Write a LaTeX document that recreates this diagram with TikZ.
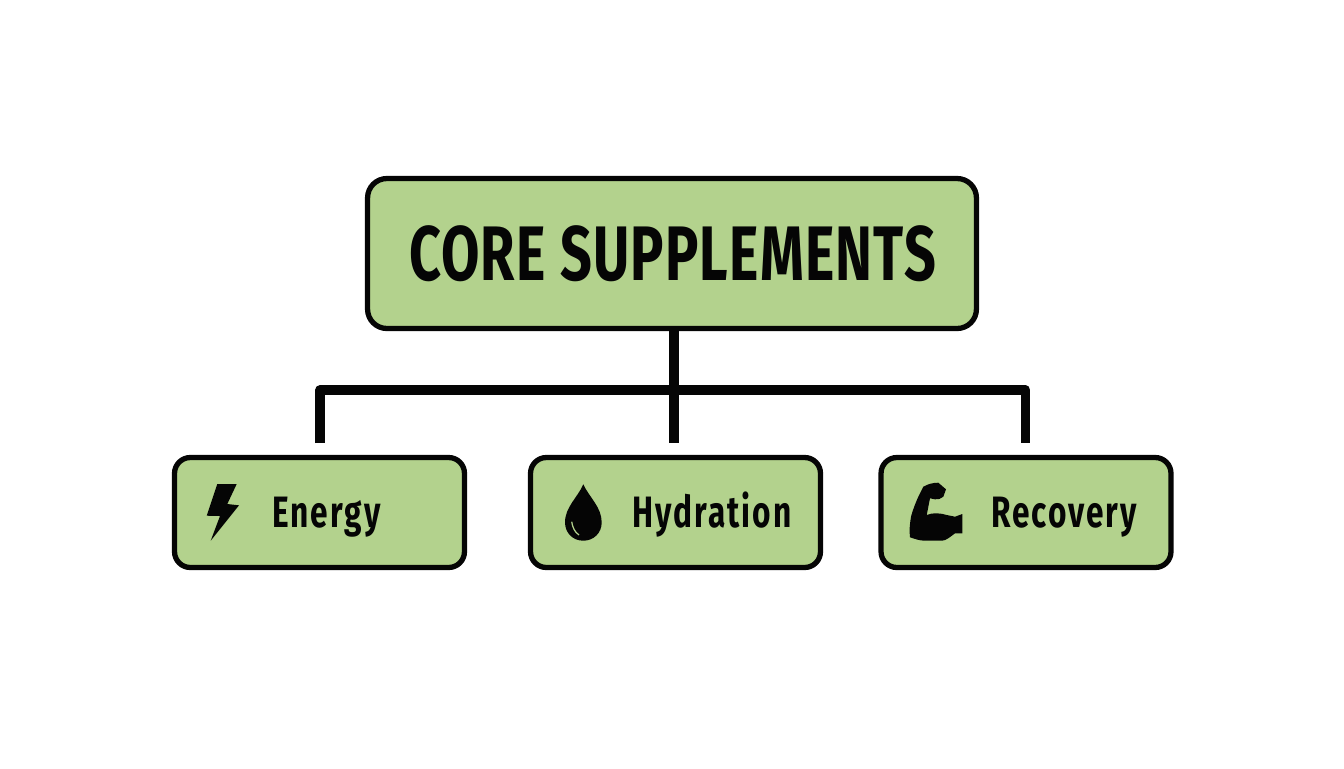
\documentclass[tikz,border=0pt]{standalone}
\usepackage{fontspec}
\newfontfamily\corefont[FakeStretch=0.72,LetterSpace=1.6]{Fira Sans Bold}
\newfontfamily\leaffont[FakeStretch=0.72,LetterSpace=4.6]{Fira Sans Bold}
\definecolor{boxgreen}{HTML}{B3D28D}
\definecolor{inkblack}{HTML}{050505}
\tikzset{
    corebox/.style={draw=inkblack,fill=boxgreen,line width=3pt,rounded corners=11pt,inner sep=0pt,outer sep=0pt,minimum width=12.18cm,minimum height=3cm},
    leafbox/.style={draw=inkblack,fill=boxgreen,line width=3pt,rounded corners=9pt,inner sep=0pt,outer sep=0pt,minimum width=5.8cm,minimum height=2.2cm},
    corelabel/.style={anchor=base,inner sep=0pt,text=inkblack,font=\corefont\fontsize{44}{44}\selectfont},
    leaflabel/.style={anchor=base,inner sep=0pt,text=inkblack,font=\leaffont\fontsize{25}{25}\selectfont},
    trunk/.style={draw=inkblack,line width=5.4pt,line join=round},
    icon/.style={fill=inkblack,draw=none}
}
\begin{document}
\begin{tikzpicture}[x=0.02cm,y=-0.02cm]
        \useasboundingbox (0,0) rectangle (1344,768);
        \coordinate (hub) at (674,390);
        \coordinate (stubE) at (320,443);
        \coordinate (stubH) at (674,443);
        \coordinate (stubR) at (1025.5,443);
        \node[corebox] (core) at (672,253.5) {};
        \node[leafbox] (energy) at (319.5,512.5) {};
        \node[leafbox] (hydration) at (675.5,512.5) {};
        \node[leafbox] (recovery) at (1026,512.5) {};
        \node[corelabel] (corelbl) at (672.5,280) {CORE SUPPLEMENTS};
        \node[leaflabel] (energylbl) at (326.5,527) {Energy};
        \node[leaflabel] (hydrationlbl) at (712,527) {Hydration};
        \node[leaflabel] (recoverylbl) at (1064,527) {Recovery};
        \draw[trunk] (core.south -| hub) -- (stubH);
        \draw[trunk] (stubE) |- (hub) -| (stubR);
        \fill[icon] (217.3,484) -- (236.7,484) -- (227.3,504) -- (239,505.3) -- (210.7,540.7) -- (220,516) -- (206.7,515.7) -- cycle;
        \fill[icon] (583.3,484.3) .. controls (578,497) and (565,507) .. (565,522.4) .. controls (565,533) and (573,540.7) .. (583.3,540.7) .. controls (593.6,540.7) and (601.7,533) .. (601.7,522.4) .. controls (601.7,507) and (589,497) .. cycle;
        \draw[boxgreen,line width=0.7pt] (571.7,521.7) .. controls (572.5,527) and (574.5,532) .. (579,535);
        \fill[icon] (910,537.3) .. controls (909,530) and (910,523) .. (911,516.7) .. controls (913,509) and (916,502) .. (918.3,496.7) -- (923.3,486.7) .. controls (928,484) and (933,482.7) .. (938.3,482.7) -- (946,489.3) -- (943.3,496.7) .. controls (941,499) and (938,499.5) .. (935,499.3) -- (930,498.3) -- (926.7,515) .. controls (930,513.5) and (933,513.3) .. (936.7,513.3) .. controls (940,513.3) and (943,514) .. (946.7,515) -- (955,516.7) -- (962.3,514) -- (962.3,533.3) -- (955,533.3) .. controls (950,537) and (946,540.7) .. (941.7,540.7) -- (925,540.7) .. controls (920,540.7) and (915,539) .. cycle;
    \end{tikzpicture}
\end{document}
